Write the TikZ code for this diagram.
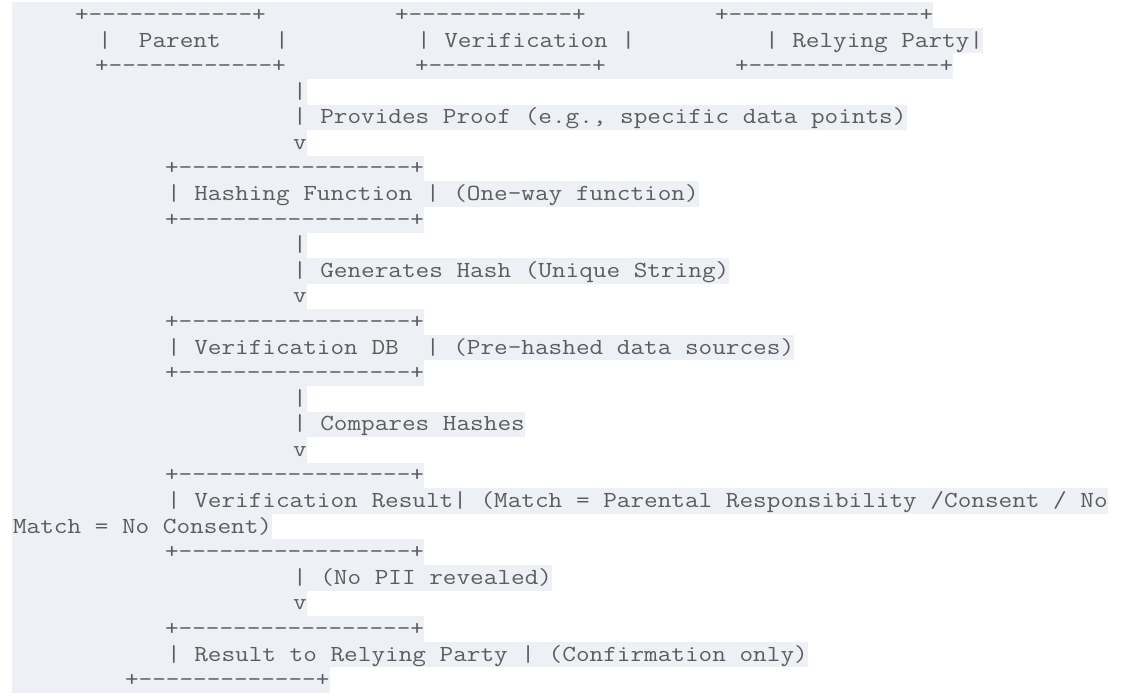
\documentclass[tikz,border=0pt]{standalone}
\usepackage{graphicx}
\usetikzlibrary{backgrounds}

\definecolor{codeink}{RGB}{92,92,92}
\definecolor{codeback}{RGB}{237,241,245}

% one "+---+" edge with #1 dashes
\newcommand{\edgeline}[1]{+\foreach \k in {1,...,#1}{-}+}
% baseline of text row #1
\newcommand{\rowbase}[1]{21.5+(#1-1)*25.58}

\tikzset{
  ascii/.style={anchor=base west, inner sep=0pt, outer sep=0pt, text=codeink, xscale=1.151,
    font=\fontsize{23}{25}\selectfont\ttfamily\frenchspacing},
  band/.style={fill=codeback},
}

\begin{document}
\begin{tikzpicture}[x=1pt, y=-1pt]
\useasboundingbox (0,0) rectangle (1132,700);

% the three boxes on top
\node[ascii] (r1a) at (75,{\rowbase{1}}) {\edgeline{12}};
\node[ascii] (r1b) at (395,{\rowbase{1}}) {\edgeline{12}};
\node[ascii] (r1) at (715,{\rowbase{1}}) {\edgeline{14}};
\node[ascii] (r2a) at (98,{\rowbase{2}}) {|~~Parent~~~~|};
\node[ascii] (r2b) at (417,{\rowbase{2}}) {|~Verification~|};
\node[ascii] (r2) at (765,{\rowbase{2}}) {|~Relying~Party|};
\node[ascii] (r3a) at (95,{\rowbase{3}}) {\edgeline{12}};
\node[ascii] (r3b) at (415,{\rowbase{3}}) {\edgeline{12}};
\node[ascii] (r3) at (735,{\rowbase{3}}) {\edgeline{14}};

% the flow down the page
\foreach \n in {4,10,16}
  \node[ascii] (r\n) at (293,{\rowbase{\n}}) {|};
\foreach \n in {6,12,18,24}
  \node[ascii] (r\n) at (293,{\rowbase{\n}}) {v};
\foreach \n in {7,9,13,15,19,22,25}
  \node[ascii] (r\n) at (165,{\rowbase{\n}}) {\edgeline{17}};

\node[ascii] (r5) at (293,{\rowbase{5}}) {| Provides Proof (e.g., specific data points)};
\node[ascii] (r8) at (167,{\rowbase{8}}) {| Hashing Function | (One-way function)};
\node[ascii] (r11) at (293,{\rowbase{11}}) {| Generates Hash (Unique String)};
\node[ascii] (r14) at (167,{\rowbase{14}}) {| Verification DB~~| (Pre-hashed data sources)};
\node[ascii] (r17) at (293,{\rowbase{17}}) {| Compares Hashes};
\node[ascii] (r20) at (167,{\rowbase{20}}) {| Verification Result| (Match = Parental Responsibility /Consent / No};
\node[ascii] (r21) at (13,{\rowbase{21}}) {Match = No Consent)};
\node[ascii] (r23) at (293,{\rowbase{23}}) {| (No PII revealed)};
\node[ascii] (r26) at (167,{\rowbase{26}}) {| Result to Relying Party | (Confirmation only)};
\node[ascii] (r27) at (125,{\rowbase{27}}) {\edgeline{13}};

% line highlights, each up to the end of its row
\begin{scope}[on background layer]
\foreach \n in {1,...,27}
  \fill[band] (12,{\rowbase{\n}-19.2}) rectangle ([yshift=-6.4pt]r\n.base east);
\end{scope}
\end{tikzpicture}
\end{document}
